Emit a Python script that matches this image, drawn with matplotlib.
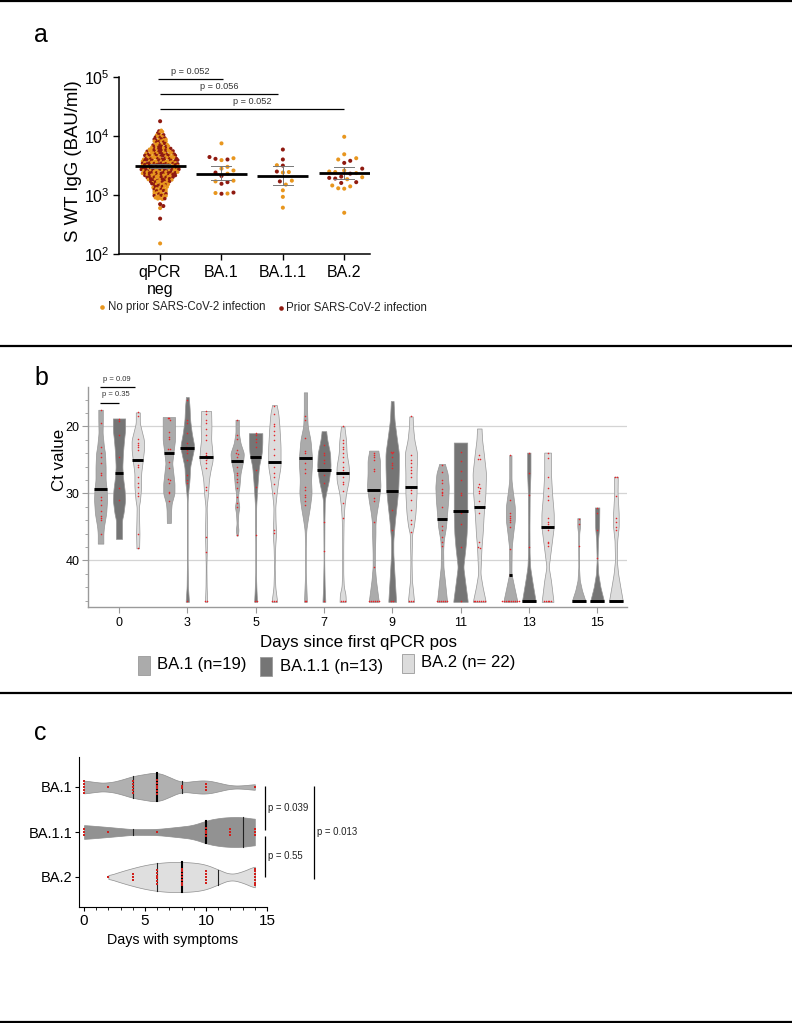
import numpy as np
import matplotlib
matplotlib.use("Agg")
import matplotlib.pyplot as plt
from matplotlib.patches import Rectangle

plt.rcParams['font.family'] = ['Liberation Sans', 'DejaVu Sans']
plt.rcParams['mathtext.fontset'] = 'custom'
plt.rcParams['mathtext.rm'] = 'Liberation Sans'
plt.rcParams['mathtext.default'] = 'regular'

# ---------- panel a data ----------
A_GROUPS = ['qPCR\nneg', 'BA.1', 'BA.1.1', 'BA.2']
A_MEDIANS = [3050, 2290, 2100, 2350]
A_Q1 = [2850, 1800, 1450, 1850]
A_Q3 = [3300, 3050, 3100, 3000]
NEG_LEVELS = [4.10, 4.06, 4.02, 3.98, 3.94, 3.90, 3.86, 3.82, 3.78, 3.74, 3.70, 3.66, 3.62, 3.58, 3.54,
              3.50, 3.46, 3.42, 3.38, 3.34, 3.30, 3.26, 3.22, 3.18, 3.14, 3.10, 3.06, 3.02, 2.98, 2.94]
NEG_NO_PRIOR = [1, 2, 2, 2, 3, 3, 4, 4, 5, 6, 7, 7, 8, 8, 7, 8, 8, 8, 7, 7, 6, 5, 5, 4, 4, 4, 4, 4, 4, 4]
NEG_PRIOR = [1, 1, 2, 3, 3, 3, 3, 4, 5, 6, 6, 7, 7, 8, 9, 8, 9, 9, 9, 7, 6, 6, 4, 4, 3, 2, 2, 2, 2, 1]
NEG_OUT_NO_PRIOR = [600, 151]
NEG_OUT_PRIOR = [17800, 700, 650, 398]
BA1_NO_PRIOR = [7500, 4200, 3900, 3000, 2800, 2600, 2300, 1750, 1700, 1080, 1060]
BA1_PRIOR = [4400, 4100, 4000, 2400, 2100, 1650, 1550, 1100, 1050]
BA11_NO_PRIOR = [3200, 2450, 2400, 1750, 1500, 1200, 930, 610]
BA11_PRIOR = [5900, 4000, 3150, 2500, 1700]
BA2_NO_PRIOR = [9700, 4900, 4200, 4000, 2600, 2500, 2450, 2350, 2000, 1850, 1450, 1400, 1300, 1280, 500]
BA2_PRIOR = [3800, 3500, 2800, 2300, 2050, 1950, 1900, 1650, 1600]

# ---------- panel b data ----------
B_DAYS = [0, 3, 5, 7, 9, 11, 13, 15]
B_VARIANTS = ['BA.1 (n=19)', 'BA.1.1 (n=13)', 'BA.2 (n= 22)']
B_MEDIANS = [[29.3, 27.0, 25.0], [24.0, 23.2, 24.6], [25.2, 24.5, 25.3], [24.7, 26.5, 26.9],
             [29.5, 29.6, 29.0], [33.8, 32.7, 32.0], [42.2, 46.0, 35.0], [46.0, 46.0, 46.0]]
# violin outlines: (Ct, density read as half width)
B_OUTLINES = [
 [[(17.5,2),(19,2),(21,1.8),(23,3),(24,4),(26,4.5),(28,4.5),(29.5,5.5),(31,5.8),(33,5),(35,3),(36,2.5),(37.5,2.5)],
  [(18.8,5.5),(20.5,5.5),(22,4.5),(24,3.5),(26,3),(27.5,3.5),(29.5,5),(31,5.5),(33,4),(34,2.7),(36.8,2.7)],
  [(17.9,1.8),(19.5,1.8),(21,4),(22,5.5),(23.5,5.5),(25,4.5),(27,3),(29,3),(31,2),(32,1),(34,1.2),(36,1.5),(38.2,1.2)]],
 [[(18.6,5.5),(20,5.5),(22,5.5),(24,4),(25.5,3),(27,4),(28.5,5),(30,5),(31.5,2.5),(32.5,2),(34.4,1.8)],
  [(15.6,1.2),(17,2),(19,2.5),(21,4),(23,6.3),(24.5,4.5),(26,2.5),(28,2),(29.5,1),(31,0.3),(40,0.3),(44,0.6),(46.2,1.5)],
  [(17.7,4.5),(20,4.8),(22,4.5),(23.5,5.5),(25,6),(26.5,4),(28,2.5),(30,1.8),(32,0.5),(36,1),(38,0.7),(41,0.3),(44,0.5),(46.2,1)]],
 [[(19,1.5),(21,1.5),(22.5,3),(24,6),(25,5.5),(27,3),(29,2),(30,1),(31,1),(32,2),(33,1),(34.5,0.5),(35.5,1.2),(36.3,0.5)],
  [(21,6),(22.5,6),(24,5.5),(26,3),(28,2),(30,1.2),(32,0.5),(35,0.5),(37,0.3),(42,0.3),(44.5,0.8),(46.2,1.3)],
  [(16.8,2),(18,3.5),(20,4.5),(23,5.5),(26,5.5),(28,3.5),(30,2),(32,0.8),(34,1),(36,1.5),(38,0.7),(41,0.3),(44,0.8),(46.2,2.5)]],
 [[(14.9,1.5),(18,1.5),(20,2),(22,4.5),(25,6),(28,5),(30,5.5),(32,4),(34,2),(35.5,0.7),(38,0.3),(42,0.3),(44,0.8),(46.2,1.3)],
  [(20.7,2),(22,3),(24,5.5),(26,6),(28,4.5),(29.5,2.5),(31,0.8),(34,0.5),(37,0.4),(40,0.3),(44,0.7),(46.2,1.3)],
  [(20,1.5),(22,3),(24,3.5),(26,5.5),(28,5.5),(30,3),(32,1.5),(34,0.8),(38,0.5),(42,0.5),(44,1),(45,2.5),(46.2,2.8)]],
 [[(23.6,4),(25,5.5),(27,5.5),(29,6),(31,4.5),(33,2.5),(34.5,1.5),(36,1.5),(39,1),(41,1),(43,2),(46.2,4.5)],
  [(16.2,1.2),(19,2),(21,3.5),(24,6),(26,6),(29,5.5),(31,4.5),(34,2.5),(37,1),(39,1),(42,2),(46.2,3.5)],
  [(18.5,1.5),(20,1.8),(22,3),(24,5.5),(27,5),(30,5),(33,4),(35,2.5),(36,1),(40,0.5),(43,0.8),(44,1.5),(46.2,2.8)]],
 [[(25.6,2.5),(27,5),(29,6),(31,5.5),(33,4.5),(35,3.5),(37,1.5),(38.5,1),(41,1.2),(43,2.5),(46.2,4.5)],
  [(22.4,6),(28,6),(33,6),(36,5.5),(38,4.5),(41,2.5),(43,4),(46.2,6.5)],
  [(20.3,2),(22,2.5),(24,4),(27,6),(30,5.5),(33,4),(36,3),(38,2),(40,1.5),(42,1),(44,3),(46.2,5.8)]],
 [[(24.3,1),(28,1),(29.5,2),(32,4),(34,4),(36,2.5),(38,1.2),(41,1),(42,1),(44,3.5),(46.2,6.3)],
  [(23.9,1.5),(27,1.5),(30,0.8),(35,0.6),(39,0.7),(41,1.2),(43,3),(46.2,6.2)],
  [(23.9,3),(27,3),(30,4),(33,5.5),(35,5.5),(37,4),(39,2.5),(41,1),(43,3),(46.2,5.3)]],
 [[(33.7,1.2),(35,1.2),(36,0.5),(41,0.3),(43,1),(44.5,3),(46.2,6.3)],
  [(32.1,2),(35,1.8),(37,0.8),(40,0.4),(42,1),(44,3),(46.2,6.3)],
  [(27.5,1.7),(30,1.5),(33,2.5),(35,2.5),(37,1.2),(40,0.8),(42,2),(44,4),(46.2,6.3)]],
]
B_POINTS = [
 [[17.5,19.5,23.1,24,24.6,25.4,27,27.2,29.3,30.5,31,31.8,32.6,33.3,33.6,33.9,36],
  [18.9,19.2,21.2,24.5,27,29.2,31],
  [17.9,18.5,21.9,22.5,22.8,23,23.5,25,25.7,26,27.5,28.4,29,30,30.4,36,38.2]],
 [[18.7,18.8,19,20.8,21.5,21.8,23.4,23.4,24,25.3,26.2,27.8,28,28.5,29.8,30,31.2],
  [16,19,19.5,21,22.5,23,23.2,23.5,24,25,27.2,28,28.4,46],
  [17.7,18.1,19,19.5,20.4,21.2,22,24,24.3,24.5,24.7,25,25.5,26.2,29,29.5,36.5,38.7,46,46]],
 [[19,21.2,21.8,23.5,24,24.1,24.6,25.2,26,27,27.3,27.8,28.3,29.2,30.5,31.5,32,36.2],
  [21,21.2,21.8,22.3,23,24.5,26.5,29,36.2,46,46],
  [16.9,18.2,19.7,20,20.6,21.2,22,23.3,24.2,25.3,26,27,27.5,28.6,30,35.4,35.9,46,46,46]],
 [[18.5,19,21.7,23.7,24,24.7,25.5,26.3,27,29,29.5,30.3,30.5,31.2,31.8,46,46],
  [22.8,24,24.3,25,25.5,26.5,27.3,28.5,34.2,38.6,46],
  [20,22,22.5,23,23.4,23.9,24.5,25.3,26,26.5,27.5,28.3,28.6,29.6,31.5,33.6,46,46,46]],
 [[24,24.3,24.6,25,26.3,26.7,29.5,30.7,31.2,34.2,41,46,46,46,46,46,46],
  [23.8,23.8,24,24.5,25.5,25.8,26.2,29.6,32.5,35.5,46,46],
  [18.5,24.3,25,25.5,26,26.5,27,27.5,29,29.5,30,31,32.5,34,34.5,35.8,46,46,46]],
 [[25.7,26.8,28,28.5,29.4,29.8,30,30.3,32,33.8,34.8,35.5,36.5,37.3,37.8,46,46,46,46,46,46],
  [23.8,25.2,26.6,28,30,30.3,33,34.5,38,46],
  [24.2,24.8,24.9,28.6,29,29.2,29.7,30,31.1,32,33,37.3,38,38.2,46,46,46,46,46,46,46]],
 [[24.3,31,33,33.3,33.6,33.9,34.2,35,38.3,42.2,46,46,46,46,46,46,46,46,46,46],
  [24,27,30.3,38,46],
  [24,24.7,27.6,29.2,30.4,31,33.6,34.2,34.5,35,35.5,37.2,37.4,37.8,46,46,46,46,46]],
 [[33.8,34.5,37.8,46],
  [32.2,33,35.4,39.6,46],
  [27.5,27.6,30.4,33.7,34.3,35,35.5,46]],
]

# ---------- panel c data ----------
C_GROUPS = ['BA.1', 'BA.1.1', 'BA.2']
C_OUTLINES = [
 [(0,6.5),(0.5,6),(1,4.5),(2,4.3),(3,7),(4,11),(5,13),(6,15),(7,10),(8,4.5),(9,6),(10,7),(11,4.5),(12,1.5),(13,1.5),(14,3)],
 [(0,7),(2,5),(4,2.8),(6,3),(8,5.5),(9,7),(10,11.5),(11,14),(12,15),(13,15),(14,13)],
 [(2,1.5),(3,5.5),(4,9),(5,12),(6,14),(7,15),(8,15),(9,14.5),(10,12.5),(11,7.5),(12,2.5),(13,5.5),(14,11)],
]
C_QUARTILES = [[4, 8], [4, 13], [6, 11]]
C_MEDIANS = [6, 10, 8]
C_POINTS = [
 [0,0,0,0,0,2,4,4,4,4,4,6,6,6,6,6,6,8,8,10,10,10,14],
 [0,0,0,2,6,10,10,10,10,12,12,12,14,14,14],
 [2,4,4,4,6,6,6,6,6,6,8,8,8,8,8,8,8,10,10,10,10,10,14,14,14,14,14,14,14],
]

ORANGE, DARK = '#e8961e', '#8f1a10'
B_COL = ['#ababab', '#757575', '#dcdcdc']
C_COL = ['#b0b0b0', '#929292', '#dfdfdf']
RED = '#e5262a'
W, H = 792, 1023

fig = plt.figure(figsize=(W / 100, H / 100), dpi=100, facecolor='white')


def axes_px(l, t, r, b):
    return fig.add_axes([l / W, 1 - b / H, (r - l) / W, (b - t) / H])


def smooth(pts, n=240, win=13):
    p = np.array(pts, float)
    g = np.linspace(p[0, 0], p[-1, 0], n)
    h = np.interp(g, p[:, 0], p[:, 1])
    pad = win // 2
    e = np.r_[np.full(pad, h[0]), h, np.full(pad, h[-1])]
    return g, np.convolve(e, np.ones(win) / win, mode='valid')


def row_offsets(vals, binw, step):
    vals = np.asarray(vals, float)
    keys = np.round(vals / binw).astype(int)
    off = np.zeros(len(vals))
    for k in np.unique(keys):
        idx = np.where(keys == k)[0]
        off[idx] = (np.arange(len(idx)) - (len(idx) - 1) / 2) * step
    return off


def swarm_px(y_px, dist, grid):
    """x offsets in px so that no two dots are closer than dist."""
    xs = []
    for j, y in enumerate(y_px):
        sign = 1 if j % 2 else -1
        k = 0
        while True:
            found = False
            for c in ((0,) if k == 0 else (sign * k * grid, -sign * k * grid)):
                if all((c - x) ** 2 + (y - yy) ** 2 >= dist ** 2 for x, yy in zip(xs, y_px[:j])):
                    xs.append(c)
                    found = True
                    break
            if found:
                break
            k += 1
    return np.array(xs)


ov = fig.add_axes([0, 0, 1, 1], zorder=10)
ov.set_xlim(0, W)
ov.set_ylim(H, 0)
ov.axis('off')

for y in (0.5, 346, 693, 1022):
    ov.plot([0, W], [y, y], color='black', lw=1.6, solid_capstyle='butt')
for s, y in (('a', 35), ('b', 378), ('c', 733)):
    ov.text(34, y, s, fontsize=18, ha='left', va='center')

# ---------- panel a ----------
axa = axes_px(119, 77, 370, 254)
PX_A = 61.4
PX_DEC = 59.0
axa.set_yscale('log')
axa.set_ylim(100, 100000)
axa.set_xlim(-0.67, 3.42)
for sp in ('top', 'right'):
    axa.spines[sp].set_visible(False)
for sp in ('left', 'bottom'):
    axa.spines[sp].set_linewidth(1.1)
axa.set_xticks(range(4))
axa.set_xticklabels(A_GROUPS, fontsize=11.5, linespacing=1.12)
axa.tick_params(axis='both', which='major', length=4, width=1.0, labelsize=11.5, pad=2.5)
axa.tick_params(axis='x', pad=4)
axa.tick_params(axis='y', which='minor', length=0)
axa.yaxis.set_minor_locator(matplotlib.ticker.NullLocator())


def scatter_group(ax, xc, no_prior, prior, dist):
    vals = np.r_[no_prior, prior]
    cols = np.r_[np.zeros(len(no_prior)), np.ones(len(prior))]
    order = np.argsort(vals)
    vals, cols = vals[order], cols[order]
    off = swarm_px(list(np.log10(vals) * PX_DEC), dist, dist / 2)
    ax.scatter(xc + off / PX_A, vals, s=8.5, c=[DARK if c else ORANGE for c in cols], lw=0, zorder=3)


# qPCR neg: dense rows; prior/no-prior dots interleaved along each row
GOLD = 0.618034
nx, ny, nc = [], [], []
for r, (lv, a, b) in enumerate(zip(NEG_LEVELS, NEG_NO_PRIOR, NEG_PRIOR)):
    n = a + b
    phase = (np.arange(n) * GOLD + r * 0.37) % 1
    prior_idx = set(np.argsort(phase)[:b].tolist())
    nx.extend((np.arange(n) - (n - 1) / 2) * 2.35 / PX_A)
    ny.extend(10 ** (lv + 0.03 * (((np.arange(n) * 0.381 + r * 0.17) % 1) - 0.5)))
    nc.extend(DARK if i in prior_idx else ORANGE for i in range(n))
axa.scatter(nx, ny, s=6.5, c=nc, lw=0, zorder=3)
scatter_group(axa, 0, NEG_OUT_NO_PRIOR, NEG_OUT_PRIOR, 3.2)
scatter_group(axa, 1, BA1_NO_PRIOR, BA1_PRIOR, 6.0)
scatter_group(axa, 2, BA11_NO_PRIOR, BA11_PRIOR, 6.0)
scatter_group(axa, 3, BA2_NO_PRIOR, BA2_PRIOR, 6.0)

for i, (m, lo, hi) in enumerate(zip(A_MEDIANS, A_Q1, A_Q3)):
    axa.plot([i, i], [lo, hi], color='#777777', lw=0.7, zorder=4)
    for v in (lo, hi):
        axa.plot([i - 10 / PX_A, i + 10 / PX_A], [v, v], color='#777777', lw=0.7, zorder=4)
    axa.plot([i - 25.5 / PX_A, i + 25.5 / PX_A], [m, m], color='black', lw=2.0, solid_capstyle='butt', zorder=5)

ov.text(73, 161, 'S WT IgG (BAU/ml)', rotation=90, fontsize=13.4, ha='center', va='center')
for x0, x1, yl, xt, yt, s in ((158, 223, 79.3, 190.7, 71.7, 'p = 0.052'),
                              (160, 278, 94, 219, 86.7, 'p = 0.056'),
                              (160, 344, 109, 252, 101, 'p = 0.052')):
    ov.plot([x0, x1], [yl, yl], color='black', lw=0.9, solid_capstyle='butt')
    ov.text(xt, yt, s, fontsize=6.6, ha='center', va='center', color='#333333')
ov.scatter([102], [307], s=11, color=ORANGE, lw=0)
ov.text(107.5, 307, 'No prior SARS-CoV-2 infection', fontsize=8.3, ha='left', va='center', color='#222222')
ov.scatter([281], [308], s=11, color=DARK, lw=0)
ov.text(286, 308, 'Prior SARS-CoV-2 infection', fontsize=8.3, ha='left', va='center', color='#222222')

# ---------- panel b ----------
axb = axes_px(88, 387, 627, 607)
PX_B = 68.3
axb.set_xlim((88 - 119) / PX_B, (627 - 119) / PX_B)
axb.set_ylim(46.97, 14.1)
for sp in ('top', 'right'):
    axb.spines[sp].set_visible(False)
for sp in ('left', 'bottom'):
    axb.spines[sp].set_color('#9a9a9a')
    axb.spines[sp].set_linewidth(1.0)
axb.set_yticks([20, 30, 40])
axb.set_yticks(np.arange(16, 47, 2), minor=True)
axb.tick_params(axis='y', which='major', length=4, color='#9a9a9a', labelsize=9, pad=2)
axb.tick_params(axis='y', which='minor', length=2, color='#9a9a9a')
axb.set_xticks(range(len(B_DAYS)))
axb.set_xticklabels(B_DAYS)
axb.tick_params(axis='x', length=4, color='#9a9a9a', labelsize=9, pad=3)
axb.grid(axis='y', which='major', color='#d4d4d4', lw=0.9, zorder=0)
axb.set_axisbelow(True)

OFFS = [-0.27, 0.0, 0.275]
WIDTH_GAIN = 1.12
for d in range(len(B_DAYS)):
    for v in range(3):
        xc = d + OFFS[v]
        g, h = smooth(B_OUTLINES[d][v], win=9)
        h = h * WIDTH_GAIN
        axb.fill_betweenx(g, xc - h / PX_B, xc + h / PX_B, facecolor=B_COL[v], edgecolor='#969696', lw=0.5, zorder=2)
        pts = np.array(B_POINTS[d][v], float)
        axb.scatter(xc + row_offsets(pts, 0.3, 1.9 / PX_B), pts, s=1.3, color=RED, lw=0, zorder=3)
        m = B_MEDIANS[d][v]
        half = float(np.interp(m, g, h)) + 0.4
        axb.plot([xc - half / PX_B, xc + half / PX_B], [m, m], color='black', lw=2.1, solid_capstyle='butt', zorder=4)

ov.text(59, 460, 'Ct value', rotation=90, fontsize=12.2, ha='center', va='center')
ov.text(358, 642, 'Days since first qPCR pos', fontsize=12.2, ha='center', va='center')
for x0, x1, yl, xt, yt, s in ((100, 135, 387.3, 117, 379.3, 'p = 0.09'),
                              (100, 119, 403.3, 116, 395, 'p = 0.35')):
    ov.plot([x0, x1], [yl, yl], color='black', lw=0.9, solid_capstyle='butt')
    ov.text(xt, yt, s, fontsize=5.5, ha='center', va='center', color='#333333')
for (xp, xt, yc), col, lab in zip(((138, 157, 665), (260, 280, 666), (402, 421, 663)), B_COL, B_VARIANTS):
    ov.add_patch(Rectangle((xp, yc - 9.5), 12, 19, facecolor=col, edgecolor='#9a9a9a', lw=0.6))
    ov.text(xt, yc, lab, fontsize=12, ha='left', va='center')

# ---------- panel c ----------
axc = axes_px(79, 757, 267, 907)
PX_CX, PX_CY = 12.18, 45.0
axc.set_xlim((79 - 84) / PX_CX, 15)
axc.set_ylim(-30 / PX_CY, 120 / PX_CY)
for sp in ('top', 'right'):
    axc.spines[sp].set_visible(False)
axc.set_xticks([0, 5, 10, 15])
axc.set_xticks(range(16), minor=True)
axc.set_yticks([2, 1, 0])
axc.set_yticklabels(C_GROUPS)
axc.tick_params(axis='both', which='major', length=3, labelsize=10.5, pad=1.5)
axc.tick_params(axis='x', labelsize=11, pad=2)
axc.tick_params(axis='x', which='minor', length=2)
for i in range(3):
    yc = 2 - i
    g, h = smooth(C_OUTLINES[i], win=21)
    axc.fill_between(g, yc - h / PX_CY, yc + h / PX_CY, facecolor=C_COL[i], edgecolor='#8e8e8e', lw=0.5, zorder=2)
    for q in C_QUARTILES[i]:
        hh = np.interp(q, g, h) / PX_CY
        axc.plot([q, q], [yc - hh, yc + hh], color='#222222', lw=0.8, zorder=3)
    m = C_MEDIANS[i]
    hh = np.interp(m, g, h) / PX_CY
    axc.plot([m, m], [yc - hh, yc + hh], color='black', lw=1.5, zorder=3)
    pts = np.array(C_POINTS[i], float)
    off = np.zeros(len(pts))
    for u in np.unique(pts):
        idx = np.where(pts == u)[0]
        off[idx] = (np.arange(len(idx)) - (len(idx) - 1) / 2) * 2.8 / PX_CY
    axc.scatter(pts, yc + off, s=1.8, color='#d0201c', lw=0, marker='s', zorder=4)

ov.text(173, 940, 'Days with symptoms', fontsize=10.3, ha='center', va='center')
for x, y0, y1 in ((265, 786, 830), (265, 836, 877), (314, 786, 879)):
    ov.plot([x, x], [y0, y1], color='black', lw=0.9, solid_capstyle='butt')
for x, y, s in ((268, 808, 'p = 0.039'), (268, 856, 'p = 0.55'), (317, 832, 'p = 0.013')):
    ov.text(x, y, s, fontsize=6.9, ha='left', va='center', color='#222222')

fig.savefig('out.png', dpi=100)
